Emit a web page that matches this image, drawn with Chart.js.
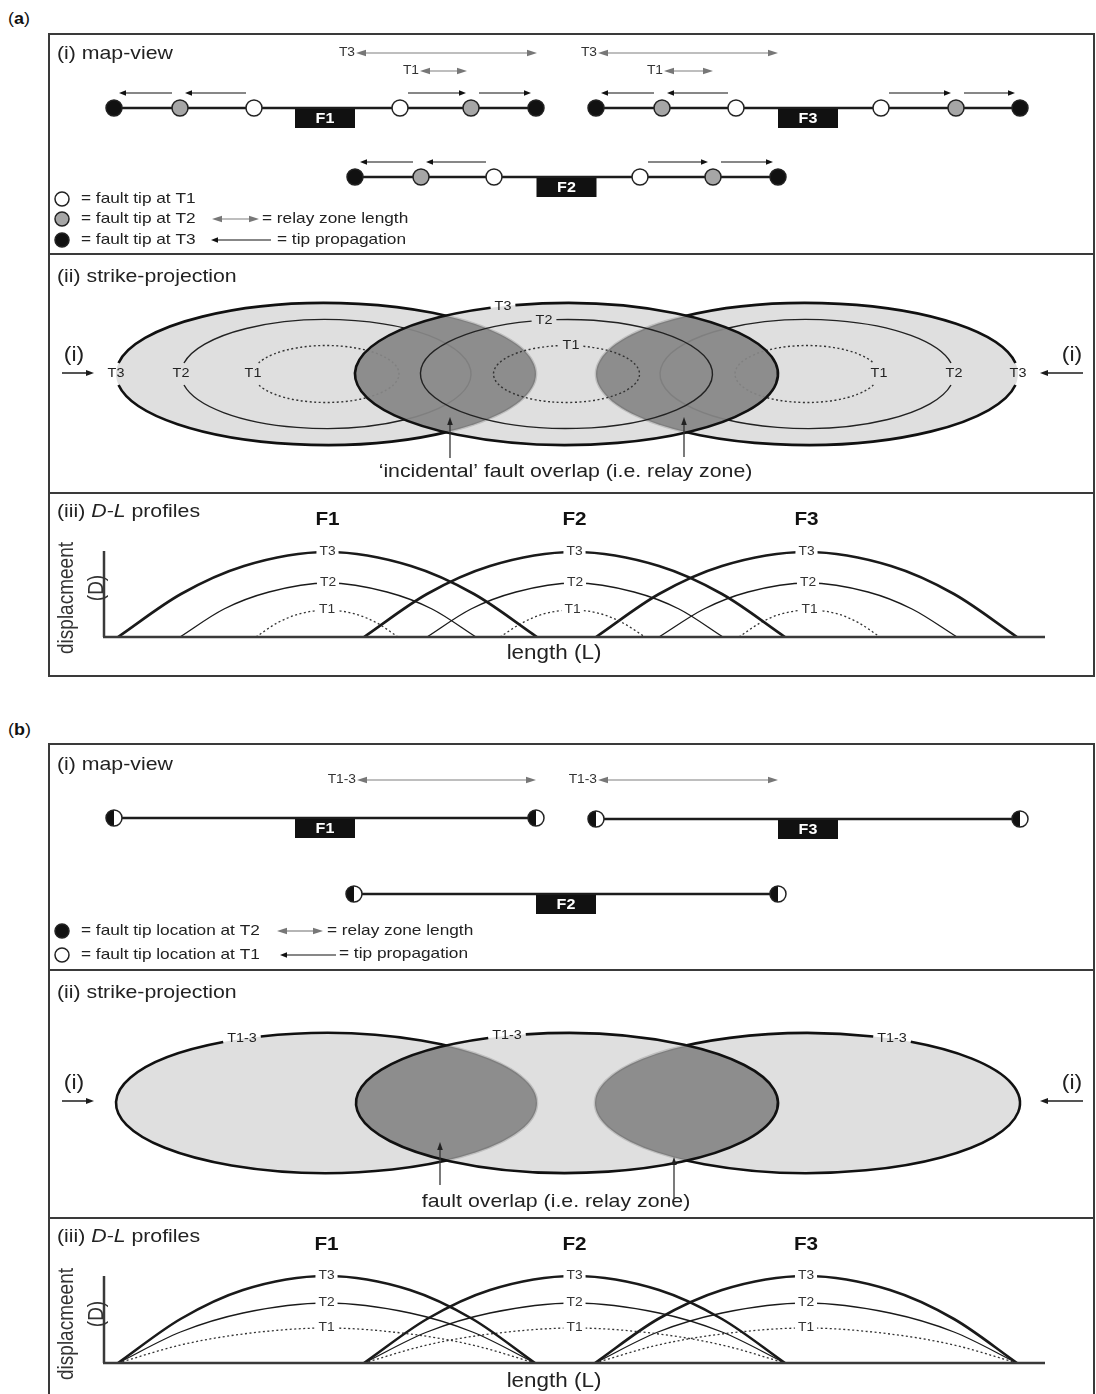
<!DOCTYPE html>
<html lang="en">
<head>
<meta charset="utf-8">
<title>Fault growth and relay zones</title>
<script src="https://cdn.jsdelivr.net/npm/chart.js@4.4.1/dist/chart.umd.min.js"></script>
<style>
  html, body { margin: 0; padding: 0; background: #fff; }
  #fig { position: relative; width: 1096px; height: 1394px; overflow: hidden; background: #fff; }
  #fig canvas { position: absolute; left: 0; }
  .frame { position: absolute; border: 2px solid #3a3a3a; box-sizing: border-box; z-index: 2; }
  .rule { position: absolute; height: 2px; background: #3a3a3a; z-index: 2; }
  .tag { position: absolute; left: 8px; font: 16px "Liberation Sans", Arial, sans-serif; color: #111;
         transform: scaleX(1.12); transform-origin: left center; }
</style>
</head>
<body>
<div id="fig">
  <div class="tag" style="top:10px">(<b>a</b>)</div>
  <div class="tag" style="top:721px">(<b>b</b>)</div>
</div>
<script>
// ---------------- names ----------------
const faultNames = ['F1', 'F2', 'F3'];
const stageNames = ['T1', 'T2', 'T3'];

// ---------------- (a) isolated growth: tips keep propagating ----------------
// map-view tip positions along strike, [left, right] at T1, T2, T3
const tipsA_F1 = [[254, 400], [180, 471], [114, 536]];
const tipsA_F2 = [[494, 640], [421, 713], [355, 778]];
const tipsA_F3 = [[736, 881], [662, 956], [596, 1020]];
const traceOffsetA = [0, 69, 0];           // across-strike offset of each trace
// relay-zone lengths
const relayStageA = ['T3', 'T1', 'T3', 'T1'];
const relayFromA = [356, 420, 598, 664];
const relayToA = [537, 467, 778, 713];

// strike-projection ellipses: centre, half-length and half-height for T1, T2, T3
const ellCentreA = [326, 566.5, 807];
const ellHalfLenA_F1 = [73, 145, 210];
const ellHalfLenA_F2 = [73, 146, 211.5];
const ellHalfLenA_F3 = [72, 147, 211];
const ellHalfHeightA = [28.5, 54.5, 71];
const ellRimLabelXA_F2 = [571, 544, 503];  // labels sitting on the upper rim of F2

// displacement-length profiles, [length, displacement]
const dlA_F1_T1 = [[256, 0], [277, 14], [299, 23], [327, 27], [355, 23], [377, 14], [398, 0]];
const dlA_F1_T2 = [[180, 0], [224, 28], [269, 45], [328, 54], [387, 45], [432, 28], [476, 0]];
const dlA_F1_T3 = [[118, 0], [181, 43], [244, 71], [327.5, 85], [411, 71], [474, 43], [537, 0]];
const dlA_F2_T1 = [[500, 0], [522, 14], [543.5, 23], [572.5, 27], [601.5, 23], [623, 14], [645, 0]];
const dlA_F2_T2 = [[427, 0], [471, 28], [516, 45], [575, 54], [634, 45], [679, 28], [723, 0]];
const dlA_F2_T3 = [[364, 0], [427, 43], [490, 71], [574.5, 85], [659, 71], [722, 43], [785, 0]];
const dlA_F3_T1 = [[739, 0], [760, 14], [781, 23], [809.5, 27], [838, 23], [859, 14], [880, 0]];
const dlA_F3_T2 = [[659, 0], [704, 28], [748, 45], [808, 54], [868, 45], [912, 28], [957, 0]];
const dlA_F3_T3 = [[596, 0], [659, 43], [722, 71], [806.5, 85], [891, 71], [954, 43], [1017, 0]];
const dlAxisTopA = 86;

// ---------------- (b) constant-length growth: tips fixed from T1 ----------------
const tipsB = [[114, 536], [354, 778], [596, 1020]];
const traceOffsetB = [0, 76, 1];
const relayFromB = [357, 598];
const relayToB = [536, 778];

const ellCentreB = [326.5, 567, 807.5];
const ellHalfLenB = [210.5, 211, 212.5];
const ellHalfHeightB = [70, 70, 70];
const ellRimLabelXB = [242, 507, 892];

const dlB_F1_T1 = [[118, 0], [180.5, 18], [243, 29], [326.5, 35], [410, 29], [472.5, 18], [535, 0]];
const dlB_F1_T2 = [[118, 0], [180.5, 31], [243, 50], [326.5, 60], [410, 50], [472.5, 31], [535, 0]];
const dlB_F1_T3 = [[118, 0], [180.5, 44], [243, 73], [326.5, 87], [410, 73], [472.5, 44], [535, 0]];
const dlB_F2_T1 = [[364, 0], [427, 18], [490, 29], [574.5, 35], [659, 29], [722, 18], [785, 0]];
const dlB_F2_T2 = [[364, 0], [427, 31], [490, 50], [574.5, 60], [659, 50], [722, 31], [785, 0]];
const dlB_F2_T3 = [[364, 0], [427, 44], [490, 73], [574.5, 87], [659, 73], [722, 44], [785, 0]];
const dlB_F3_T1 = [[595, 0], [658, 18], [722, 29], [806, 35], [890, 29], [954, 18], [1017, 0]];
const dlB_F3_T2 = [[595, 0], [658, 31], [722, 50], [806, 60], [890, 50], [954, 31], [1017, 0]];
const dlB_F3_T3 = [[595, 0], [658, 44], [722, 73], [806, 87], [890, 73], [954, 44], [1017, 0]];
const dlAxisTopB = 87;

// ---------------- drawing helpers ----------------
const PAGE_W = 1096;
const FONT = '"Liberation Sans", Arial, Helvetica, sans-serif';
const STRETCH = 1.15;
const INK = '#1c1c1c';
const fig = document.getElementById('fig');

function setFont(ctx, o) { ctx.font = `${o.style || 'normal'} ${o.weight || 'normal'} ${o.size || 15}px ${FONT}`; }
function textWidth(ctx, str, o) {
  ctx.save(); setFont(ctx, o);
  const w = ctx.measureText(str).width * (o.k ?? STRETCH);
  ctx.restore(); return w;
}
function text(ctx, str, x, y, o = {}) {
  const k = o.k ?? STRETCH;
  ctx.save();
  setFont(ctx, o);
  const w = ctx.measureText(str).width * k;
  const x0 = o.align === 'center' ? x - w / 2 : o.align === 'right' ? x - w : x;
  if (o.bg) {
    const p = o.pad ?? 3, s = o.size || 15;
    ctx.fillStyle = o.bg; ctx.fillRect(x0 - p, y - s * 0.5, w + 2 * p, s);
  }
  ctx.translate(x0, y);
  ctx.scale(k, 1);
  ctx.fillStyle = o.color || INK;
  ctx.textAlign = 'left';
  ctx.textBaseline = 'middle';
  ctx.fillText(str, 0, 0);
  ctx.restore();
  return w;
}
function runs(ctx, parts, x, y, base) {
  parts.forEach(p => { x += text(ctx, p.t, x, y, Object.assign({}, base, p)); });
}
function vtext(ctx, str, x, y, o) {
  ctx.save();
  ctx.translate(x, y);
  ctx.rotate(-Math.PI / 2);
  ctx.scale(1, STRETCH);
  setFont(ctx, o);
  ctx.fillStyle = o.color || INK;
  ctx.textAlign = 'center';
  ctx.textBaseline = 'middle';
  ctx.fillText(str, 0, 0);
  ctx.restore();
}
function head(ctx, x, y, ang, len, half) {
  const c = Math.cos(ang), s = Math.sin(ang);
  ctx.beginPath();
  ctx.moveTo(x, y);
  ctx.lineTo(x - len * c - half * s, y - len * s + half * c);
  ctx.lineTo(x - len * c + half * s, y - len * s - half * c);
  ctx.closePath();
  ctx.fill();
}
function arrow(ctx, x1, y1, x2, y2, o = {}) {
  const len = o.len || 7, half = o.half || 2.8, ang = Math.atan2(y2 - y1, x2 - x1);
  const c = Math.cos(ang), s = Math.sin(ang), a = o.both ? len * 0.7 : 0;
  ctx.save();
  ctx.strokeStyle = o.line || INK;
  ctx.lineWidth = o.width || 1.3;
  ctx.beginPath();
  ctx.moveTo(x1 + c * a, y1 + s * a);
  ctx.lineTo(x2 - c * len * 0.7, y2 - s * len * 0.7);
  ctx.stroke();
  ctx.fillStyle = o.head || INK;
  head(ctx, x2, y2, ang, len, half);
  if (o.both) head(ctx, x1, y1, ang + Math.PI, len, half);
  ctx.restore();
}
const relayArrow = (ctx, x1, x2, y) =>
  arrow(ctx, x1, y, x2, y, { both: true, line: '#a8a8a8', head: '#777', width: 1.7, len: 10, half: 3.2 });
const tipArrow = (ctx, x1, x2, y) =>
  arrow(ctx, x1, y, x2, y, { line: '#111', head: '#111', width: 1.2, len: 7, half: 2.8 });
function dot(ctx, x, y, r, fill) {
  ctx.save();
  ctx.beginPath(); ctx.arc(x, y, r, 0, 2 * Math.PI);
  ctx.fillStyle = fill; ctx.fill();
  ctx.lineWidth = 1.5; ctx.strokeStyle = '#222'; ctx.stroke();
  ctx.restore();
}
// point style for a tip that does not move: left half T2 (black), right half T1 (white)
function halfTip(r) {
  const s = 2 * r + 4, cv = document.createElement('canvas');
  cv.width = cv.height = s;
  const g = cv.getContext('2d'), c = s / 2;
  g.fillStyle = '#fff'; g.beginPath(); g.arc(c, c, r, 0, 2 * Math.PI); g.fill();
  g.fillStyle = '#111'; g.beginPath(); g.arc(c, c, r, Math.PI / 2, 3 * Math.PI / 2); g.closePath(); g.fill();
  g.strokeStyle = '#222'; g.lineWidth = 1.5; g.beginPath(); g.arc(c, c, r, 0, 2 * Math.PI); g.stroke();
  return cv;
}

function addFrame(top, bottom, rules) {
  const f = document.createElement('div');
  f.className = 'frame';
  Object.assign(f.style, { left: '48px', top: top + 'px', width: '1047px', height: (bottom - top) + 'px' });
  fig.appendChild(f);
  rules.forEach(y => {
    const r = document.createElement('div');
    r.className = 'rule';
    Object.assign(r.style, { left: '48px', top: (y - 1) + 'px', width: '1047px' });
    fig.appendChild(r);
  });
}

// one chart per panel; x is length along strike, y is the panel's own quantity
function panel(top, bottom, anchor, upward, datasets, draw) {
  const cv = document.createElement('canvas');
  cv.width = PAGE_W; cv.height = bottom - top;
  cv.style.top = top + 'px';
  fig.appendChild(cv);
  const y = upward ? { min: anchor - bottom, max: anchor - top, reverse: false }
                   : { min: top - anchor, max: bottom - anchor, reverse: true };
  return new Chart(cv, {
    type: 'line',
    data: { datasets },
    options: {
      responsive: false, animation: false, devicePixelRatio: 1, events: [],
      layout: { padding: 0, autoPadding: false },
      plugins: { legend: { display: false }, tooltip: { enabled: false } },
      scales: {
        x: { type: 'linear', min: 0, max: PAGE_W, display: false },
        y: Object.assign({ type: 'linear', display: false }, y)
      }
    },
    plugins: [{ id: 'sketch', afterDatasetsDraw: c => draw(c) }]
  });
}
const XY = c => [v => c.scales.x.getPixelForValue(v), v => c.scales.y.getPixelForValue(v)];
const TITLE = { size: 18.5, color: '#222' };

// ---------------- map view ----------------
function faultTags(ctx, X, Y, tips, rows) {
  tips.forEach((pair, f) => {
    const x = X((pair[0] + pair[1]) / 2), y = Y(rows[f]);
    ctx.fillStyle = '#111';
    ctx.fillRect(x - 30, y + 1, 60, 19);
    text(ctx, faultNames[f], x, y + 11, { size: 14, weight: 'bold', color: '#fff', align: 'center' });
  });
}

const stageFill = ['#ffffff', '#a6a6a6', '#111111'];
const tipsA = [tipsA_F1, tipsA_F2, tipsA_F3];
const relayRow = { T3: -55, T1: -37, 'T1-3': -38 };

function mapDatasetsA() {
  const pts = [], fill = [];
  tipsA.forEach((tips, f) => tips.forEach((pair, s) => pair.forEach(x => {
    pts.push({ x, y: traceOffsetA[f] }); fill.push(stageFill[s]);
  })));
  const sets = [{ data: pts, showLine: false, pointRadius: 8, pointBackgroundColor: fill,
                  pointBorderColor: '#222', pointBorderWidth: 1.5, order: 0 }];
  tipsA.forEach((tips, f) => sets.push({
    data: [{ x: tips[2][0], y: traceOffsetA[f] }, { x: tips[2][1], y: traceOffsetA[f] }],
    borderColor: '#1c1c1c', borderWidth: 2.6, pointRadius: 0, order: 1 }));
  return sets;
}
function drawMapA(c) {
  const ctx = c.ctx, [X, Y] = XY(c);
  text(ctx, '(i) map-view', 57, 21, TITLE);
  relayStageA.forEach((st, i) => {
    const y = Y(relayRow[st]);
    relayArrow(ctx, X(relayFromA[i]), X(relayToA[i]), y);
    text(ctx, st, X(relayFromA[i]) - 1, y, { size: 12, align: 'right', color: '#333' });
  });
  tipsA.forEach((tips, f) => {
    const y = Y(traceOffsetA[f]) - 15;
    for (let s = 0; s < 2; s++) {
      tipArrow(ctx, X(tips[s][0]) - 8, X(tips[s + 1][0]) + 5, y);
      tipArrow(ctx, X(tips[s][1]) + 8, X(tips[s + 1][1]) - 5, y);
    }
  });
  faultTags(ctx, X, Y, tipsA.map(t => t[2]), traceOffsetA);
  // key
  const L = { size: 15, color: '#222' };
  dot(ctx, 62, 166, 7, stageFill[0]); text(ctx, '= fault tip at T1', 81, 166, L);
  dot(ctx, 62, 186, 7, stageFill[1]); text(ctx, '= fault tip at T2', 81, 186, L);
  relayArrow(ctx, 212, 259, 186); text(ctx, '= relay zone length', 262, 186, L);
  dot(ctx, 62, 207, 7, stageFill[2]); text(ctx, '= fault tip at T3', 81, 207, L);
  tipArrow(ctx, 271, 211, 207); text(ctx, '= tip propagation', 277, 207, L);
}

function mapDatasetsB() {
  const style = halfTip(8);
  const pts = [];
  tipsB.forEach((pair, f) => pair.forEach(x => pts.push({ x, y: traceOffsetB[f] })));
  const sets = [{ data: pts, showLine: false, pointStyle: style, pointRadius: 9, order: 0 }];
  tipsB.forEach((pair, f) => sets.push({
    data: [{ x: pair[0], y: traceOffsetB[f] }, { x: pair[1], y: traceOffsetB[f] }],
    borderColor: '#1c1c1c', borderWidth: 2.6, pointRadius: 0, order: 1 }));
  return sets;
}
function drawMapB(c) {
  const ctx = c.ctx, [X, Y] = XY(c);
  text(ctx, '(i) map-view', 57, 22, TITLE);
  relayFromB.forEach((x0, i) => {
    const y = Y(relayRow['T1-3']);
    relayArrow(ctx, X(x0), X(relayToB[i]), y);
    text(ctx, 'T1-3', X(x0) - 1, y, { size: 12, align: 'right', color: '#333' });
  });
  faultTags(ctx, X, Y, tipsB, traceOffsetB);
  const L = { size: 15, color: '#222' };
  dot(ctx, 62, 188, 7, '#111'); text(ctx, '= fault tip location at T2', 81, 188, L);
  relayArrow(ctx, 277, 323, 188); text(ctx, '= relay zone length', 327, 188, L);
  dot(ctx, 62, 212, 7, '#fff'); text(ctx, '= fault tip location at T1', 81, 212, L);
  tipArrow(ctx, 336, 280, 212); text(ctx, '= tip propagation', 339, 211, L);
}

// ---------------- strike projection ----------------
function rimStyle(name) {
  if (name === 'T2') return { width: 1.4, color: '#222', dash: [] };
  if (name === 'T1') return { width: 1.4, color: '#333', dash: [2, 2.5] };
  return { width: 2.6, color: '#111', dash: [] };
}
function drawStrike(c, faults, note) {
  const ctx = c.ctx, [X, Y] = XY(c);
  const geom = (cx, hl, hh) => ({ px: X(cx), py: Y(0), rx: X(cx + hl) - X(cx), ry: Math.abs(Y(hh) - Y(0)) });
  const outline = g => { ctx.beginPath(); ctx.ellipse(g.px, g.py, g.rx, g.ry, 0, 0, 2 * Math.PI); };
  const LBL = { size: 12.5, color: '#222' };
  const clamp = v => Math.max(-1, Math.min(1, v));
  const rim = (g, name, where, lx) => {
    let t0, t1, tx, ty;
    if (where === 'left' || where === 'right') {
      const d = Math.asin(Math.min(1, 11 / g.ry));
      if (where === 'left') { t0 = Math.PI + d; t1 = 3 * Math.PI - d; tx = g.px - g.rx; }
      else { t0 = d; t1 = 2 * Math.PI - d; tx = g.px + g.rx; }
      ty = g.py;
    } else {
      tx = X(lx);
      const hw = textWidth(ctx, name, LBL) / 2 + 4;
      const ta = 2 * Math.PI - Math.acos(clamp((tx - hw - g.px) / g.rx));
      const tb = 2 * Math.PI - Math.acos(clamp((tx + hw - g.px) / g.rx));
      t0 = tb; t1 = ta + 2 * Math.PI;
      const u = (tx - g.px) / g.rx;
      ty = g.py - g.ry * Math.sqrt(Math.max(0, 1 - u * u));
    }
    const st = rimStyle(name);
    ctx.save();
    ctx.lineWidth = st.width; ctx.strokeStyle = st.color; ctx.setLineDash(st.dash);
    ctx.beginPath(); ctx.ellipse(g.px, g.py, g.rx, g.ry, 0, t0, t1); ctx.stroke();
    ctx.restore();
    text(ctx, name, tx, ty, Object.assign({ align: 'center' }, LBL));
  };
  const shapes = f => f.halfLen.map((hl, i) => geom(f.centre, hl, f.halfHeight[i]));
  const fillOuter = (gs, fill) => { ctx.fillStyle = fill; outline(gs[gs.length - 1]); ctx.fill(); };
  const rims = (f, gs) => gs.forEach((g, i) => rim(g, f.labels[i], f.where, f.labelX ? f.labelX[i] : null));

  // flanking faults
  [faults[0], faults[2]].forEach(f => { const gs = shapes(f); fillOuter(gs, '#dfdfdf'); rims(f, gs); });
  // central fault laid over them
  const gm = shapes(faults[1]);
  fillOuter(gm, 'rgba(218,218,218,0.87)');
  // overlap of the outer tip-lines = relay zones
  ctx.save();
  outline(gm[gm.length - 1]); ctx.clip();
  ctx.fillStyle = 'rgba(40,40,40,0.44)';
  [faults[0], faults[2]].forEach(f => { const gs = shapes(f); outline(gs[gs.length - 1]); ctx.fill(); });
  ctx.restore();
  rims(faults[1], gm);

  // viewing direction of the map view
  const yv = Y(note.view);
  text(ctx, '(i)', 74, yv - 18, { size: 20, align: 'center', color: '#222' });
  arrow(ctx, 62, yv, 94, yv, { width: 1.5, len: 8, half: 3 });
  text(ctx, '(i)', 1072, yv - 18, { size: 20, align: 'center', color: '#222' });
  arrow(ctx, 1083, yv, 1040, yv, { width: 1.5, len: 8, half: 3 });

  // callout
  note.arrows.forEach(a => arrow(ctx, X(a[0]), Y(a[1]), X(a[0]), Y(a[2]), { line: '#333', head: '#222', width: 1.3, len: 8, half: 2.8 }));
  text(ctx, note.text, X(note.x), Y(note.y), { size: 18.5, align: 'center', color: '#222' });
  text(ctx, '(ii) strike-projection', 57, 23, TITLE);
}

// ---------------- displacement-length profiles ----------------
function profileSets(list, axisTop) {
  const sets = list.map(([f, st, pts]) => ({
    data: pts.map(([x, d]) => ({ x, y: d })),
    borderColor: st === 'T1' ? '#333' : '#1a1a1a',
    borderWidth: st === 'T3' ? 2.6 : 1.3,
    borderDash: st === 'T1' ? [2, 2.5] : [],
    pointRadius: 0, cubicInterpolationMode: 'monotone', fill: false, order: 1
  }));
  sets.push({ data: [{ x: 104, y: 0 }, { x: 104, y: axisTop }], borderColor: '#3a3a3a', borderWidth: 2.5, pointRadius: 0, order: 0 });
  sets.push({ data: [{ x: 103, y: 0 }, { x: 1045, y: 0 }], borderColor: '#3a3a3a', borderWidth: 2.5, pointRadius: 0, order: 0 });
  return sets;
}
function drawProfiles(c, list, lay) {
  const ctx = c.ctx, [X, Y] = XY(c);
  runs(ctx, [{ t: '(iii) ' }, { t: 'D-L', style: 'italic' }, { t: ' profiles' }], 57, 19, TITLE);
  list.forEach(([f, st, pts]) => {
    const peak = pts.reduce((a, b) => (b[1] > a[1] ? b : a));
    text(ctx, st, X(peak[0]), Y(peak[1]), { size: 12, align: 'center', color: '#333', bg: '#fff', pad: 3 });
    if (st === 'T3') text(ctx, f, X(peak[0]), 27, { size: 18, weight: 'bold', align: 'center', color: '#111' });
  });
  vtext(ctx, 'displacmeent', 67, lay.dispY, { size: 19, color: '#333' });
  vtext(ctx, '(D)', 97, lay.dispY - 10, { size: 19, color: '#333' });
  text(ctx, 'length (L)', 554, lay.lenY, { size: 19.5, align: 'center', color: '#222' });
}

// ---------------- build part (a) ----------------
panel(33, 254, 108, false, mapDatasetsA(), drawMapA);

const strikeA = [
  { centre: ellCentreA[0], halfLen: ellHalfLenA_F1, halfHeight: ellHalfHeightA, labels: stageNames, where: 'left' },
  { centre: ellCentreA[1], halfLen: ellHalfLenA_F2, halfHeight: ellHalfHeightA, labels: stageNames, where: 'top', labelX: ellRimLabelXA_F2 },
  { centre: ellCentreA[2], halfLen: ellHalfLenA_F3, halfHeight: ellHalfHeightA, labels: stageNames, where: 'right' }
];
panel(254, 493, 374, false, [], c => drawStrike(c, strikeA, {
  view: -1, arrows: [[450, 84, 43], [684, 83, 43]],
  text: '\u2018incidental\u2019 fault overlap (i.e. relay zone)', x: 565.5, y: 98
}));

const profA = [
  ['F1', 'T3', dlA_F1_T3], ['F1', 'T2', dlA_F1_T2], ['F1', 'T1', dlA_F1_T1],
  ['F2', 'T3', dlA_F2_T3], ['F2', 'T2', dlA_F2_T2], ['F2', 'T1', dlA_F2_T1],
  ['F3', 'T3', dlA_F3_T3], ['F3', 'T2', dlA_F3_T2], ['F3', 'T1', dlA_F3_T1]
];
panel(493, 676, 637, true, profileSets(profA, dlAxisTopA), c => drawProfiles(c, profA, { dispY: 105, lenY: 161 }));
addFrame(33, 677, [254, 493]);

// ---------------- build part (b) ----------------
panel(743, 970, 818, false, mapDatasetsB(), drawMapB);

const strikeB = [0, 1, 2].map(f => ({
  centre: ellCentreB[f], halfLen: [ellHalfLenB[f]], halfHeight: [ellHalfHeightB[f]],
  labels: ['T1-3'], where: 'top', labelX: [ellRimLabelXB[f]]
}));
panel(970, 1218, 1103, false, [], c => drawStrike(c, strikeB, {
  view: -2, arrows: [[440, 82, 39], [674, 95, 54]],
  text: 'fault overlap (i.e. relay zone)', x: 556, y: 99
}));

const profB = [
  ['F1', 'T3', dlB_F1_T3], ['F1', 'T2', dlB_F1_T2], ['F1', 'T1', dlB_F1_T1],
  ['F2', 'T3', dlB_F2_T3], ['F2', 'T2', dlB_F2_T2], ['F2', 'T1', dlB_F2_T1],
  ['F3', 'T3', dlB_F3_T3], ['F3', 'T2', dlB_F3_T2], ['F3', 'T1', dlB_F3_T1]
];
panel(1218, 1394, 1363, true, profileSets(profB, dlAxisTopB), c => drawProfiles(c, profB, { dispY: 106, lenY: 164 }));
addFrame(743, 1410, [970, 1218]);
</script>
</body>
</html>
